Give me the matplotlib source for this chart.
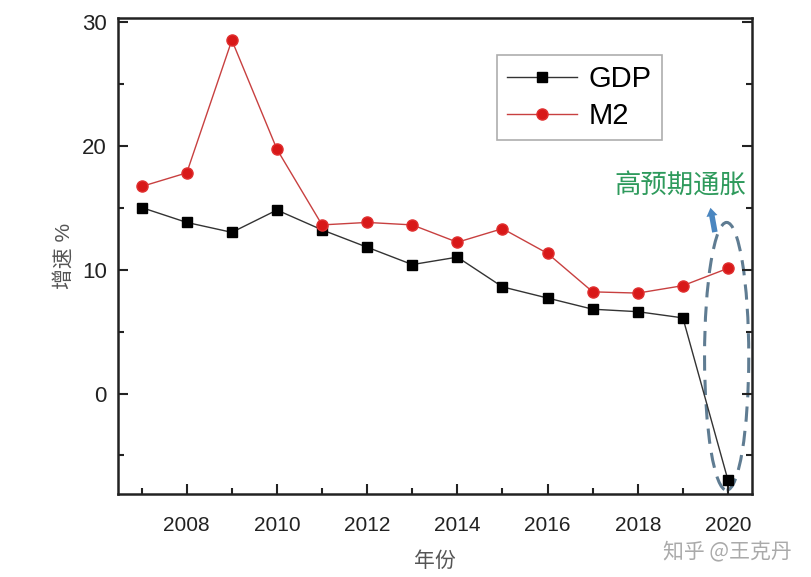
import matplotlib.pyplot as plt
from matplotlib.patches import Ellipse
from matplotlib.ticker import MultipleLocator

plt.rcParams['font.family'] = ['Liberation Sans', 'Noto Sans CJK SC', 'DejaVu Sans']

years = [2007, 2008, 2009, 2010, 2011, 2012, 2013, 2014, 2015, 2016, 2017, 2018, 2019, 2020]
gdp = [15.0, 13.8, 13.0, 14.8, 13.2, 11.8, 10.4, 11.0, 8.6, 7.7, 6.8, 6.6, 6.1, -7.0]
m2 = [16.7, 17.8, 28.5, 19.7, 13.6, 13.8, 13.6, 12.2, 13.3, 11.3, 8.2, 8.1, 8.7, 10.1]

fig = plt.figure(figsize=(8.12, 5.77), dpi=100)
ax = fig.add_axes([0.145, 0.144, 0.781, 0.825])

ax.plot(years, gdp, color='#333333', lw=1.0, marker='s', ms=6.5, mfc='black', mec='black', label='GDP')
ax.plot(years, m2, color='#c84040', lw=1.0, marker='o', ms=8, mfc='#d81818', mec='#e03030', label='M2')

ax.set_xlim(2006.47, 2020.53)
ax.set_ylim(-8.1, 30.3)
ax.xaxis.set_major_locator(MultipleLocator(2))
ax.xaxis.set_minor_locator(MultipleLocator(1))
ax.yaxis.set_major_locator(MultipleLocator(10))
ax.yaxis.set_minor_locator(MultipleLocator(5))
ax.tick_params(which='both', direction='in', top=False, right=True, width=1.5, colors='#222222')
ax.tick_params(which='major', length=7)
ax.tick_params(which='minor', length=4)
ax.tick_params(axis='x', labelsize=15, pad=16)
ax.tick_params(axis='y', labelsize=16, pad=8)
for s in ax.spines.values():
    s.set_linewidth(1.8)
    s.set_color('#222222')

ax.set_xlabel('年份', fontsize=15, color='#555555', labelpad=12)
ax.set_ylabel('增速 %', fontsize=15, color='#555555', labelpad=6)

leg = ax.legend(loc='upper right', bbox_to_anchor=(0.858, 0.922), fontsize=21, frameon=True,
                fancybox=False, edgecolor='#999999', handlelength=2.4, borderpad=0.35,
                labelspacing=0.3, handletextpad=0.4, borderaxespad=0)
leg.get_frame().set_linewidth(1.2)

ell = Ellipse((2019.97, 3.0), 0.98, 21.6, angle=0, fill=False, ls=(0, (5, 3)),
              lw=2.2, ec='#5f7c92')
ax.add_patch(ell)
ax.annotate('', xy=(2019.6, 15.2), xytext=(2019.72, 12.8),
            arrowprops=dict(arrowstyle='simple,head_length=0.6,head_width=0.8,tail_width=0.4',
                            color='#4a86c0', lw=0))
ax.text(2018.95, 16.7, '高预期通胀', fontsize=19, color='#2e9a5c', ha='center', va='center',
        family=['Noto Sans CJK SC'])

fig.text(0.975, 0.045, '知乎 @王克丹', fontsize=15, color='#aaaaaa', ha='right', va='center',
         family=['Noto Sans CJK SC'])

fig.savefig('out.png', dpi=100)
